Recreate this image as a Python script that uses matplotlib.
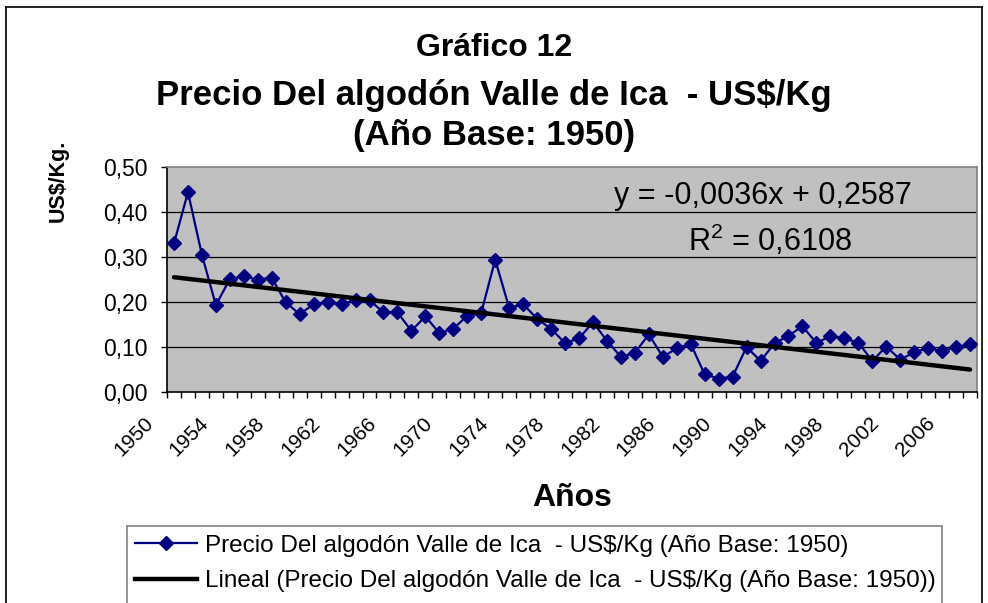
import matplotlib
matplotlib.use("Agg")
import matplotlib.pyplot as plt
import matplotlib.transforms as mtransforms
from matplotlib.patches import Rectangle
from matplotlib.lines import Line2D
import numpy as np

# data
years = list(range(1950, 2008))
precio = [0.330, 0.444, 0.305, 0.193, 0.251, 0.257, 0.250, 0.254, 0.199, 0.173,
          0.195, 0.199, 0.195, 0.204, 0.204, 0.177, 0.177, 0.136, 0.168, 0.131,
          0.141, 0.169, 0.176, 0.294, 0.187, 0.195, 0.163, 0.140, 0.109, 0.119,
          0.155, 0.114, 0.078, 0.087, 0.128, 0.078, 0.097, 0.107, 0.039, 0.030,
          0.034, 0.100, 0.069, 0.108, 0.125, 0.146, 0.109, 0.124, 0.119, 0.110,
          0.069, 0.101, 0.072, 0.088, 0.098, 0.091, 0.100, 0.106]
trend_slope = -0.0036
trend_intercept = 0.2587
r2 = 0.6108
year_labels = [str(y) for y in years[::4]]
ytick_vals = [0.0, 0.1, 0.2, 0.3, 0.4, 0.5]

title_lines = ["Gráfico 12",
               "Precio Del algodón Valle de Ica  - US$/Kg",
               "(Año Base: 1950)"]
serie_name = "Precio Del algodón Valle de Ica  - US$/Kg (Año Base: 1950)"
trend_name = "Lineal (" + serie_name + ")"

plt.rcParams['font.family'] = ['Liberation Sans', 'DejaVu Sans']
plt.rcParams['mathtext.fontset'] = 'custom'
plt.rcParams['mathtext.rm'] = 'Liberation Sans'

W, H = 988, 603
fig = plt.figure(figsize=(W / 100, H / 100), dpi=100)

def fx(px):
    return px / W

def fy(py):
    return 1 - py / H

# outer chart border
fig.add_artist(Line2D([fx(6), fx(6)], [fy(7), -0.05], color='black', lw=1.2))
fig.add_artist(Line2D([fx(6), fx(982)], [fy(7), fy(7)], color='black', lw=1.2))
fig.add_artist(Line2D([fx(982), fx(982)], [fy(7), -0.05], color='black', lw=1.2))

ax = fig.add_axes([fx(167), fy(392), fx(977 - 167), (392 - 167) / H])
ax.set_facecolor('#C0C0C0')

x = np.arange(len(years))
ax.plot(x, precio, color='#000080', lw=1.6, marker='D', ms=7,
        markeredgecolor='#000080', markerfacecolor='#000080', zorder=3)

# trendline from the equation Excel printed (x = 1..n)
xt = np.array([1, len(years)])
yt = trend_slope * xt + trend_intercept
ax.plot(xt - 1, yt, color='black', lw=3.2, solid_capstyle='round', zorder=4)

ax.set_xlim(-0.5, len(years) - 0.5)
ax.set_ylim(0, 0.5)
ax.set_yticks(ytick_vals)
ax.set_yticklabels([f"{v:.2f}".replace('.', ',') for v in ytick_vals], fontsize=16.5)
for v in ytick_vals[1:-1]:
    ax.axhline(v, color='black', lw=0.9, zorder=1)

ax.set_xticks(x[::4])
ax.set_xticklabels(year_labels, rotation=45, ha='right', va='center',
                   rotation_mode='anchor', fontsize=15)
ax.set_xticks(np.arange(-0.5, len(years)), minor=True)
ax.tick_params(axis='x', which='major', length=0, pad=0)
ax.tick_params(axis='x', which='minor', length=4, width=1, direction='out')
ax.tick_params(axis='y', length=4, width=1, direction='out', pad=10)
off = mtransforms.ScaledTranslation(-24 / 100, -28 / 100, fig.dpi_scale_trans)
for lab in ax.get_xticklabels():
    lab.set_transform(lab.get_transform() + off)

for side in ['top', 'right']:
    ax.spines[side].set_color('#808080')
    ax.spines[side].set_linewidth(1.2)
for side in ['left', 'bottom']:
    ax.spines[side].set_color('black')
    ax.spines[side].set_linewidth(1.2)

ax.text(fx(763), fy(196), f"y = {trend_slope:.4f}x + {trend_intercept:.4f}".replace('.', ','),
        transform=fig.transFigure, ha='center', va='center', fontsize=22)
ax.text(fx(770), fy(240), r"R$^{\mathregular{2}}$ = " + f"{r2:.4f}".replace('.', ','),
        transform=fig.transFigure, ha='center', va='center', fontsize=22)

# titles
fig.text(0.5, fy(48), title_lines[0], ha='center', va='center', fontsize=23, fontweight='bold')
fig.text(0.5, fy(95), title_lines[1], ha='center', va='center', fontsize=25, fontweight='bold')
fig.text(0.5, fy(135), title_lines[2], ha='center', va='center', fontsize=25, fontweight='bold')

fig.text(fx(58), fy(181), "US$/Kg.", rotation=90, ha='center', va='center',
         fontsize=15.5, fontweight='bold')
fig.text(fx(572), fy(498), "Años", ha='center', va='center', fontsize=23, fontweight='bold')

# legend box (bottom runs off the picture)
fig.add_artist(Rectangle((fx(127), -0.05), fx(942 - 127), fy(526) + 0.05,
                         transform=fig.transFigure, fill=False, edgecolor='#808080', lw=1.2))
h1 = Line2D([], [], color='#000080', lw=1.6, marker='D', ms=7)
h2 = Line2D([], [], color='black', lw=3.2)
fig.legend([h1, h2], [serie_name, trend_name], loc='upper left',
           bbox_to_anchor=(fx(130), fy(530)), frameon=False,
           prop={'size': 17.5},
           handlelength=2.55, handletextpad=0.33, labelspacing=0.55, borderpad=0.2,
           borderaxespad=0)

fig.savefig("out.png", dpi=100)
